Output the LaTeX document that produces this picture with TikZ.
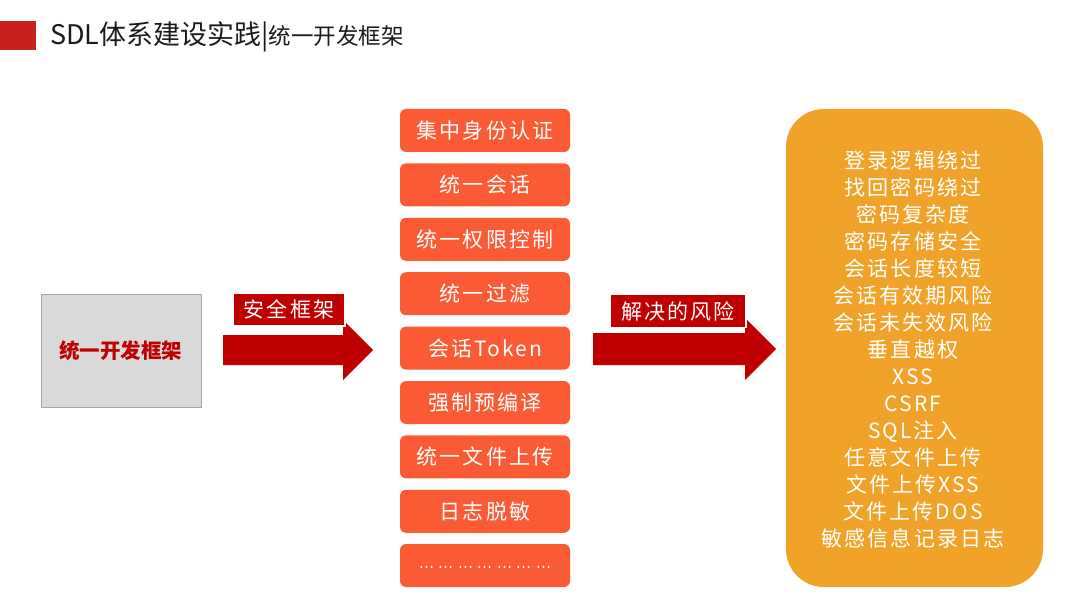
\documentclass[tikz,border=0pt]{standalone}
\usepackage{fontspec}
\usetikzlibrary{positioning, calc}
\newfontfamily\cjk[LetterSpace=10]{Noto Sans CJK SC}
\newfontfamily\cjktitle{Noto Sans CJK SC}
\definecolor{sdlred}{HTML}{C9211E}
\definecolor{dkred}{HTML}{C00000}
\definecolor{ctrlorange}{HTML}{FB5B34}
\definecolor{riskgold}{HTML}{F0A229}
\definecolor{coregray}{HTML}{D9D9D9}
\definecolor{coreline}{HTML}{A6A6A6}
\definecolor{titleink}{HTML}{1A1A1A}
\newcommand{\dotgrp}{\scalebox{0.72}[1]{…}}

\begin{document}
\begin{tikzpicture}[x=1pt, y=-1pt,
  ctrl/.style={fill=ctrlorange, rounded corners=6pt, minimum width=170pt,
    minimum height=43pt, inner sep=0pt, text=white,
    font=\cjk\fontsize{21}{21}\selectfont},
  tag/.style={fill=dkred, draw=white, line width=1.5pt, text=white,
    inner sep=0pt, minimum height=33pt, font=\cjk\fontsize{21}{21}\selectfont}]

\useasboundingbox (0,0) rectangle (1080,607);

% Title
\fill[sdlred] (0,21) rectangle (36,50);
\node[anchor=west, text=titleink, inner sep=0pt] (title) at (50,37)
  {\cjktitle\fontsize{27}{27}\selectfont SDL体系建设实践|\fontsize{22.5}{22.5}\selectfont 统一开发框架};

% Framework box
\node[fill=coregray, draw=coreline, line width=0.8pt, minimum width=160pt,
  minimum height=113pt, text=dkred, font=\cjktitle\bfseries\fontsize{20.5}{20.5}\selectfont]
  (core) at (121,350.5) {统一开发框架};

% Arrow to controls
\coordinate (a1) at (223,350);
\fill[dkred] (a1) ++(0,-15) -- ++(120,0) -- ++(0,-15) -- (373,350)
  -- (343,380) -- (343,365) -- (223,365) -- cycle;
\node[tag, minimum width=112pt] (safe) at (289,309.5) {安全框架};

% Controls
\foreach \t [count=\i from 0] in {集中身份认证, 统一会话, 统一权限控制, 统一过滤,
    会话Token, 强制预编译, 统一文件上传, 日志脱敏}
  \node[ctrl] (c\i) at (485,130.5+54.4*\i) {\t};
\node[ctrl, font=\cjktitle\fontsize{19}{19}\selectfont] (c8) at (485,565.5)
  {\raisebox{-6pt}{\dotgrp\hspace{5pt}\dotgrp\hspace{5pt}\dotgrp\hspace{5pt}\dotgrp\hspace{5pt}\dotgrp\hspace{5pt}\dotgrp\hspace{5pt}\dotgrp}};

% Arrow to risks
\coordinate (a2) at (593,349);
\fill[dkred] (a2) ++(0,-16) -- ++(152,0) -- ++(0,-15) -- (776,349)
  -- (745,380) -- (745,365) -- (593,365) -- cycle;
\node[tag, minimum width=136pt] (solve) at (678,311) {解决的风险};

% Risks
\node[fill=riskgold, rounded corners=38pt, minimum width=257pt,
  minimum height=478pt] (risk) at (914.5,348) {};
\node[text=white, align=center, font=\cjk\fontsize{21}{27}\selectfont]
  (risklist) at (913,350) {登录逻辑绕过\\找回密码绕过\\密码复杂度\\密码存储安全\\
  会话长度较短\\会话有效期风险\\会话未失效风险\\垂直越权\\XSS\\CSRF\\SQL注入\\
  任意文件上传\\文件上传XSS\\文件上传DOS\\敏感信息记录日志};

\end{tikzpicture}
\end{document}
